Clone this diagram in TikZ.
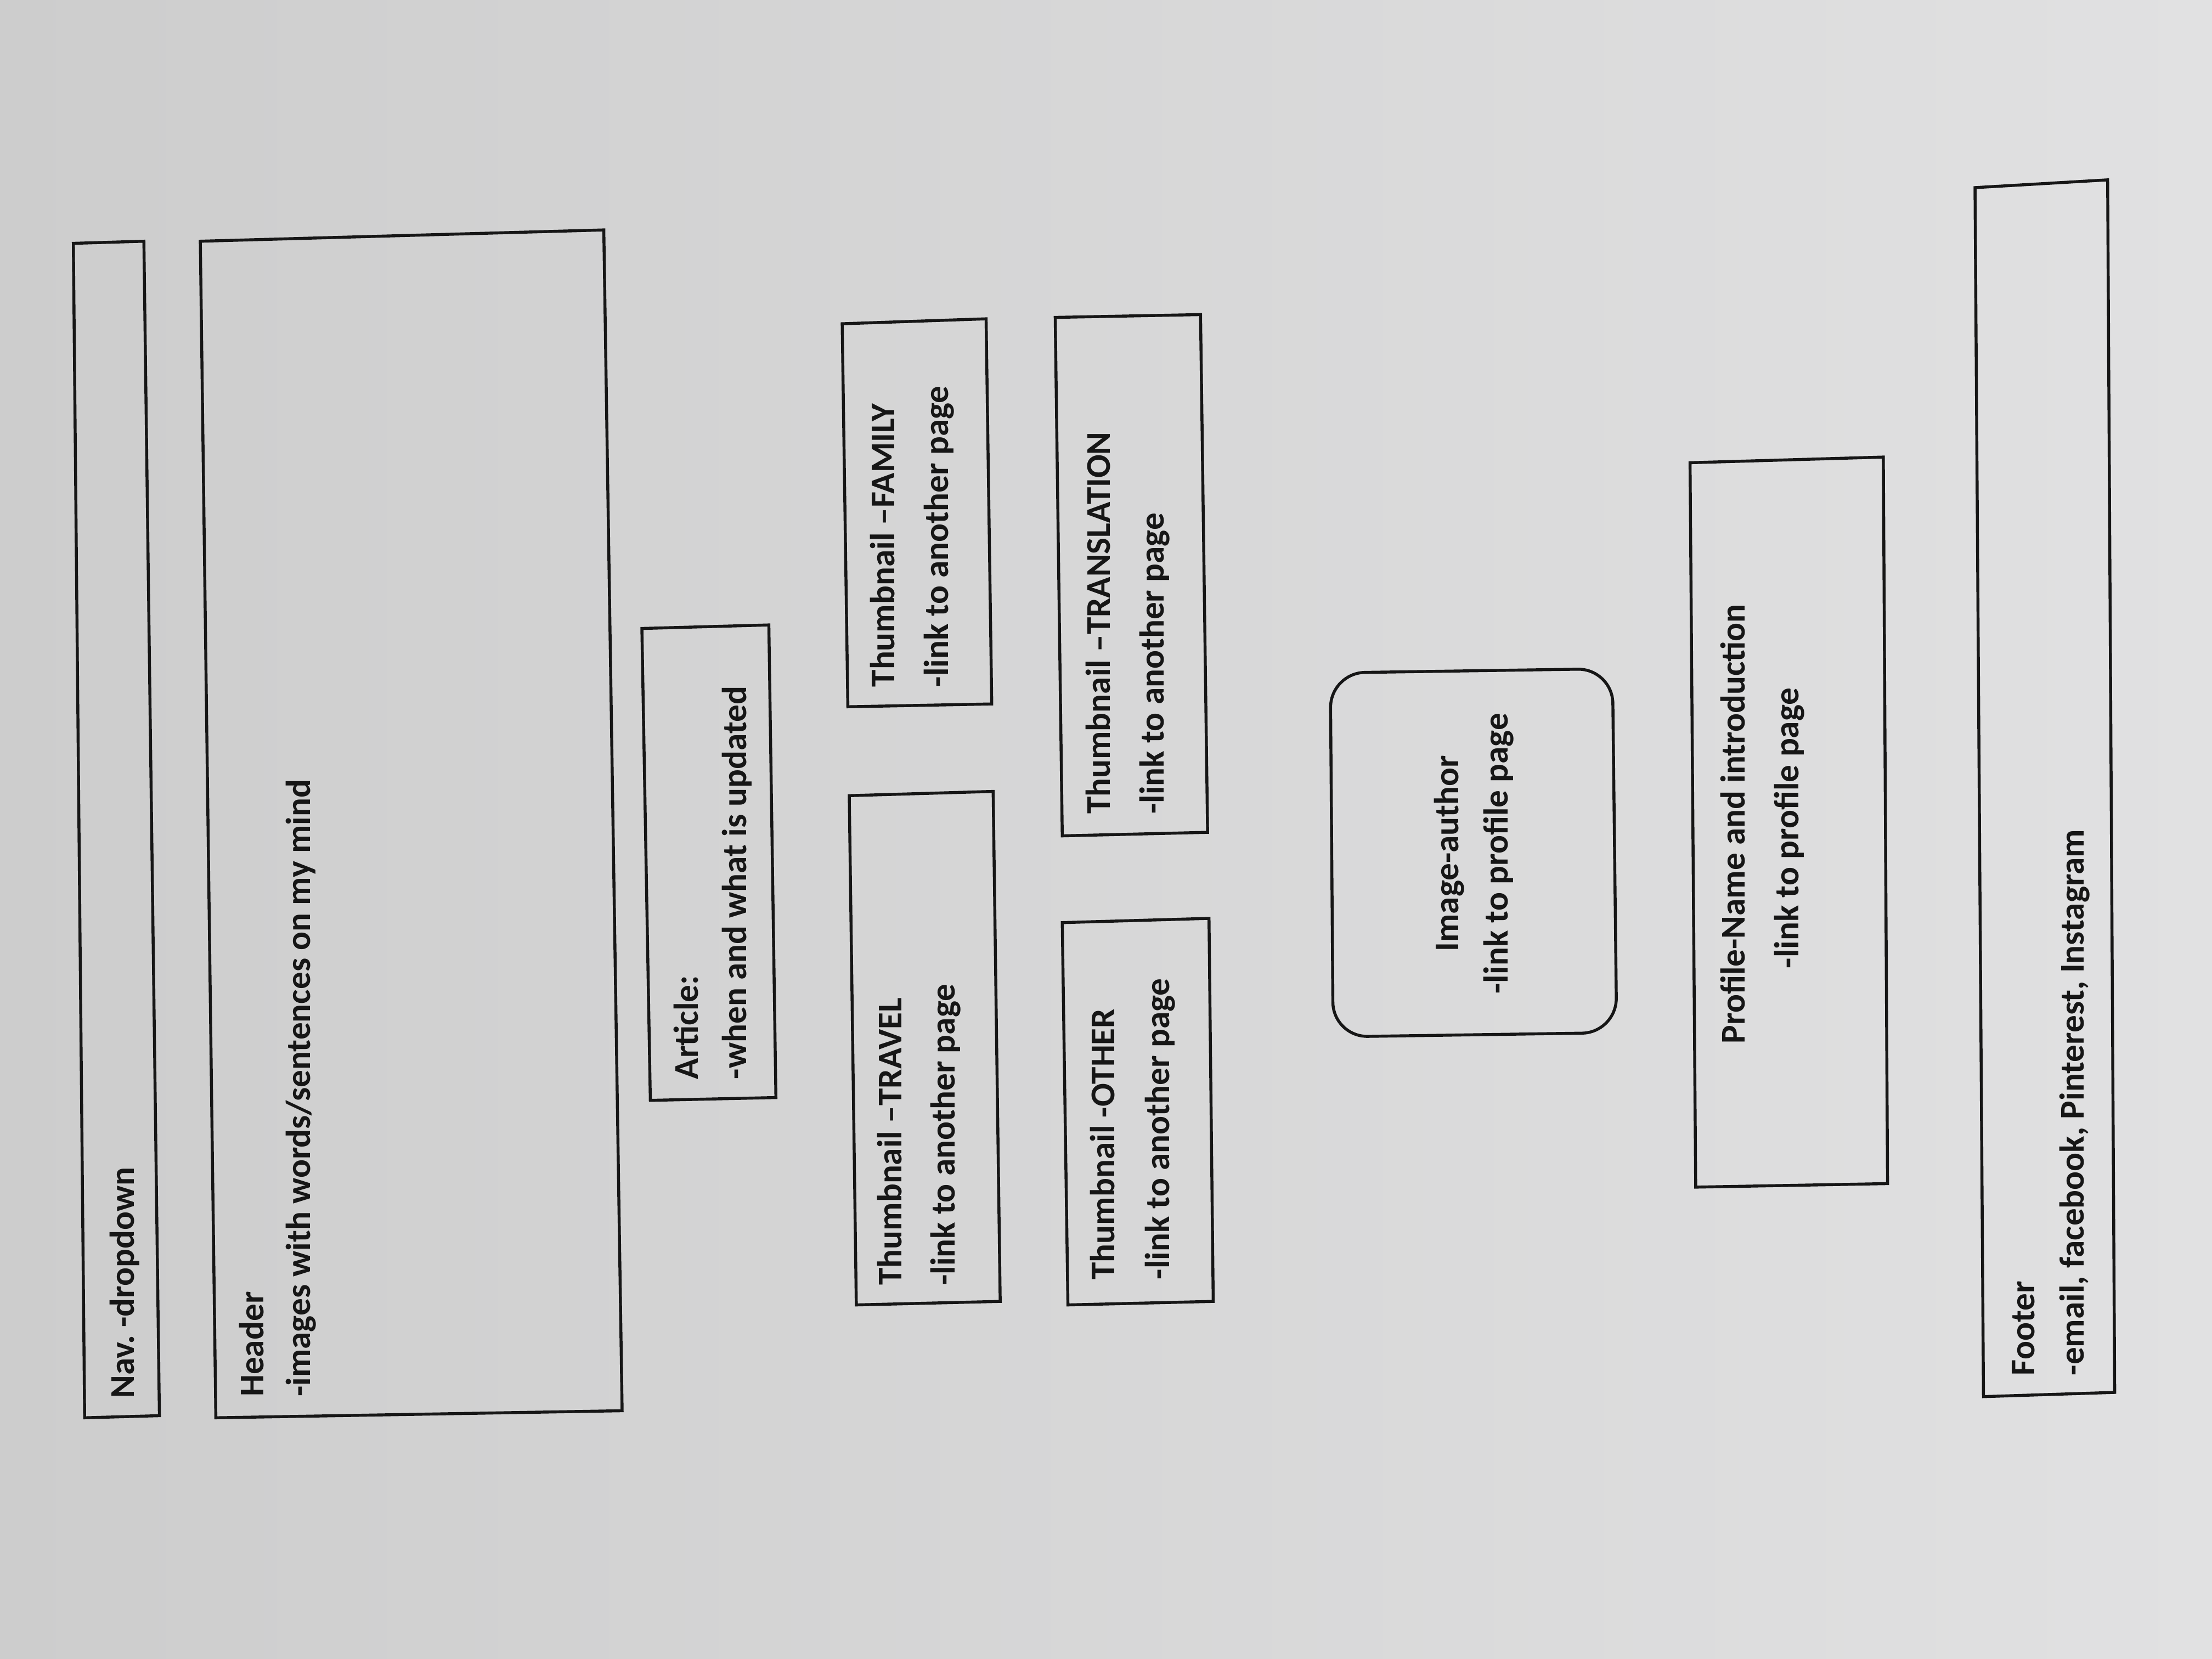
\documentclass[tikz,border=0pt]{standalone}
\usepackage{fontspec}
\setmainfont{Carlito}
\frenchspacing
\definecolor{ink}{HTML}{161616}
\definecolor{bgA}{HTML}{CDCDCD}
\definecolor{bgC}{HTML}{EAEAEA}
\definecolor{bgB}{HTML}{E1E1E2}
\begin{document}
\begin{tikzpicture}[x=0.02cm,y=-0.02cm,
  box/.style={draw=ink, line width=1.2pt, line join=miter},
  rbox/.style={box, rounded corners=14pt},
  lbl/.style={rotate=90, inner sep=0pt, outer sep=0pt, text=ink,
    font=\fontsize{14}{17}\selectfont\bfseries}]
% paper background
\shade[left color=bgA, middle color=bgC, right color=bgB] (0,0) rectangle (1568,1176);
\useasboundingbox (0,0) rectangle (1568,1176);

% boxes
\draw[box] (52,172.5) -- (102,171) -- (113,1003.5) -- (60,1005) -- cycle;      % nav
\draw[box] (142,171) -- (428,163) -- (441,1000) -- (153,1005) -- cycle;       % header
\draw[box] (455,445.5) -- (545,443) -- (550,778) -- (461,780) -- cycle;       % article
\draw[box] (597,229.5) -- (699,226) -- (703,499) -- (601,501) -- cycle;       % family
\draw[box] (748,225) -- (851,223) -- (856,590) -- (753,592.5) -- cycle;       % translation
\draw[box] (602,564) -- (704,561) -- (709,922.5) -- (607,925) -- cycle;       % travel
\draw[box] (753,654) -- (857,651) -- (860,922.5) -- (757,925) -- cycle;       % other
\draw[rbox] (943,477) -- (1143,474) -- (1146,732) -- (945,735) -- cycle;      % image-author
\draw[box] (1198,328) -- (1335,324) -- (1338,839) -- (1202,841.5) -- cycle;   % profile
\draw[box] (1400,133) -- (1494,127.5) -- (1499,987) -- (1406,990) -- cycle;   % footer

% texts
\node[lbl, anchor=base west] (nav)  at (95,991)  {Nav. -dropdown};
\node[lbl, anchor=base west] (hdrA) at (187,990) {Header};
\node[lbl, anchor=base west] (hdrB) at (220,990) {-images with words/sentences on my mind};
\node[lbl, anchor=base west] (artA) at (495,765) {Article:};
\node[lbl, anchor=base west] (artB) at (529,765) {-when and what is updated};
\node[lbl, anchor=base west] (famA) at (634,487) {Thumbnail –FAMILY};
\node[lbl, anchor=base west] (famB) at (672,487) {-link to another page};
\node[lbl, anchor=base west] (traA) at (639,911) {Thumbnail –TRAVEL};
\node[lbl, anchor=base west] (traB) at (677,911) {-link to another page};
\node[lbl, anchor=base west] (trlA) at (787,577) {Thumbnail –TRANSLATION};
\node[lbl, anchor=base west] (trlB) at (825,577) {-link to another page};
\node[lbl, anchor=base west] (othA) at (790,907) {Thumbnail -OTHER};
\node[lbl, anchor=base west] (othB) at (829,907) {-link to another page};
\node[lbl, anchor=base] (imgA) at (1034,605) {Image-author};
\node[lbl, anchor=base] (imgB) at (1069,605) {-link to profile page};
\node[lbl, anchor=base] (proA) at (1237,584) {Profile-Name and introduction};
\node[lbl, anchor=base] (proB) at (1275,587) {-link to profile page};
\node[lbl, anchor=base west] (ftrA) at (1442,975) {Footer};
\node[lbl, anchor=base west] (ftrB) at (1477,975) {-email, facebook, Pinterest, Instagram};
\end{tikzpicture}
\end{document}
